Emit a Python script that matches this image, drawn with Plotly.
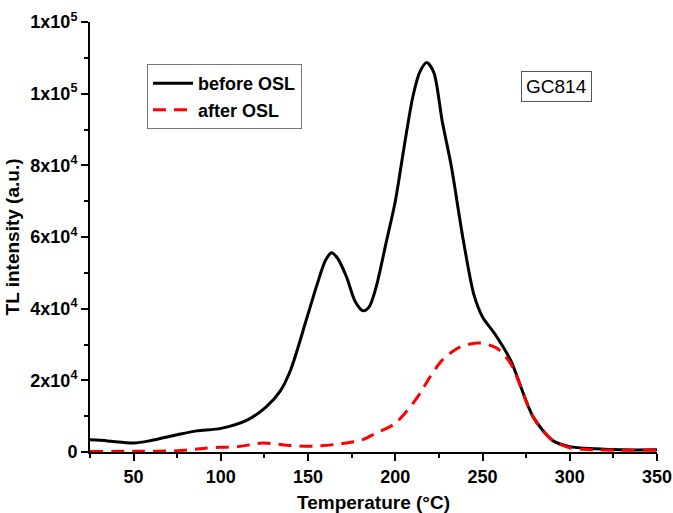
import plotly.graph_objects as go

temp_before = [25, 35, 50, 60, 75, 86, 100, 115, 126, 134, 140, 149, 155, 160, 163.5, 167, 172, 177, 181.5, 185, 189, 195, 200, 205, 210, 214, 218, 222, 227, 232, 239, 245, 250, 257, 266, 279, 290, 300, 315, 330, 350]
tl_before = [3400, 3100, 2500, 3200, 4800, 5900, 6600, 8900, 12600, 17000, 22900, 36900, 46500, 53500, 55600, 54000, 48900, 42000, 39400, 40500, 46000, 59000, 70000, 85000, 99000, 106000, 108700, 106000, 92000, 80000, 59000, 44000, 37700, 33000, 25700, 9800, 3300, 1500, 900, 600, 600]

temp_after = [25, 50, 75, 90, 100, 110, 124, 140, 153, 172, 181, 189, 195, 200, 205, 210, 215, 220, 227, 237, 248.5, 258, 266, 279, 290, 300, 315, 330, 350]
tl_after = [150, 200, 350, 1000, 1300, 1500, 2500, 1800, 1600, 2500, 3400, 5300, 6600, 8000, 10500, 13500, 17000, 21000, 25700, 29300, 30400, 29000, 24800, 9800, 3300, 1200, 600, 500, 500]

y_tickvals = [0, 20000, 40000, 60000, 80000, 100000, 120000]
y_ticktext = ["0", "2x10<sup>4</sup>", "4x10<sup>4</sup>", "6x10<sup>4</sup>", "8x10<sup>4</sup>", "1x10<sup>5</sup>", "1x10<sup>5</sup>"]
x_tickvals = [50, 100, 150, 200, 250, 300, 350]

FONT = "Liberation Sans, Arial, sans-serif"

fig = go.Figure()
fig.add_trace(go.Scatter(x=temp_before, y=tl_before, mode="lines", name="<b>before OSL</b>",
                         line=dict(color="black", width=3, shape="spline", smoothing=0.8)))
fig.add_trace(go.Scatter(x=temp_after, y=tl_after, mode="lines", name="<b>after OSL</b>",
                         line=dict(color="#ff0000", width=3, dash="13px,8px", shape="spline", smoothing=0.8)))

fig.update_layout(
    width=673, height=513,
    margin=dict(l=90, r=16, t=22, b=61),
    paper_bgcolor="white", plot_bgcolor="white",
    font=dict(family=FONT, color="black"),
    legend=dict(x=0.1005, y=0.902, xanchor="left", yanchor="top",
                bgcolor="white", bordercolor="#777777", borderwidth=1,
                font=dict(size=18, family=FONT, color="black"),
                tracegroupgap=0, itemwidth=40),
    showlegend=True,
)
fig.update_xaxes(
    range=[25, 350], tickmode="array", tickvals=x_tickvals, automargin=False,
    ticks="outside", ticklen=7, tickwidth=2, tickcolor="black",
    showline=True, linecolor="black", linewidth=2, mirror=False,
    showgrid=False, zeroline=False,
    tickfont=dict(size=18, family=FONT, weight="bold"),
    title=dict(text="<b>Temperature (°C)</b>", font=dict(size=19, family=FONT), standoff=10),
    minor=dict(dtick=25, tick0=0, ticks="outside", ticklen=4, tickwidth=1.5, tickcolor="black"),
)
fig.update_yaxes(
    range=[0, 120000], tickmode="array", tickvals=y_tickvals, ticktext=y_ticktext, automargin=False,
    ticks="outside", ticklen=7, tickwidth=2, tickcolor="black",
    showline=True, linecolor="black", linewidth=2, mirror=False,
    showgrid=False, zeroline=False,
    tickfont=dict(size=18, family=FONT, weight="bold"),
    title=dict(text="<b>TL intensity (a.u.)</b>", font=dict(size=19, family=FONT), standoff=6),
    minor=dict(dtick=10000, tick0=0, ticks="outside", ticklen=4, tickwidth=1.5, tickcolor="black"),
)
fig.add_annotation(x=0.885, y=0.886, xref="paper", yref="paper", text="GC814",
                   showarrow=False, font=dict(size=19, family=FONT, color="black"),
                   bordercolor="#555555", borderwidth=1, borderpad=4, bgcolor="white")

fig.write_html("out.html")
